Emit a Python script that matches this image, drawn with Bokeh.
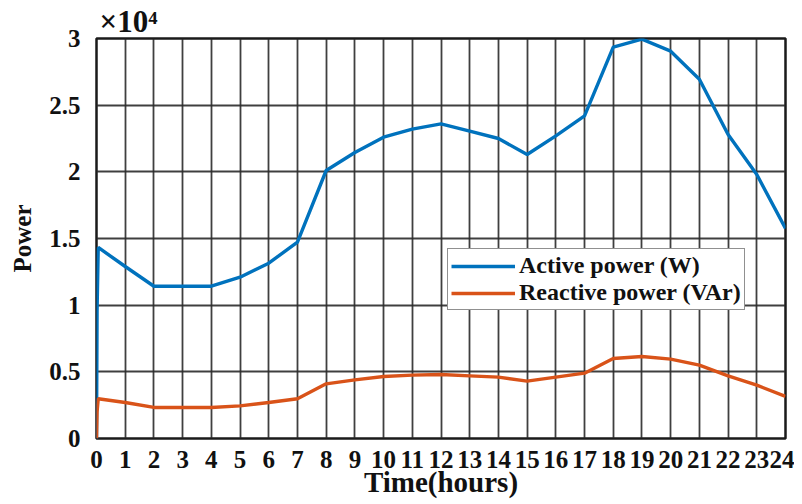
from bokeh.plotting import figure
from bokeh.models import FixedTicker, Range1d, Title, Legend, LegendItem
from bokeh.embed import file_html
from bokeh.resources import INLINE

# ---- data ----
time_h = [0, 0.02, 0.06, 1, 2, 3, 4, 5, 6, 7, 8, 9, 10, 11, 12, 13, 14, 15, 16,
          17, 18, 19, 20, 21, 22, 23, 24]
active_w = [0, 9600, 14330, 12900, 11420, 11420, 11420, 12100, 13150, 14730,
            20100, 21450, 22600, 23200, 23600, 23050, 22500, 21300, 22700,
            24200, 29350, 29950, 29050, 26950, 22800, 19800, 15750]
reactive_var = [0, 2000, 2980, 2700, 2330, 2330, 2330, 2450, 2700, 2980,
                4100, 4400, 4650, 4750, 4800, 4700, 4600, 4300, 4600,
                4900, 6000, 6150, 5950, 5500, 4700, 4000, 3150]
x_ticks = list(range(0, 25))
y_ticks = [0, 5000, 10000, 15000, 20000, 25000, 30000]
y_tick_labels = ["0", "0.5", "1", "1.5", "2", "2.5", "3"]
multiplier_text = "\u00d710\u2074"

FONT = "Liberation Serif"

p = figure(width=794, height=504, output_backend="svg", toolbar_location=None,
           x_range=Range1d(0, 24), y_range=Range1d(0, 30000),
           min_border_left=96, min_border_right=9, min_border_top=38,
           min_border_bottom=66)
p.background_fill_color = "white"
p.border_fill_color = "white"
p.outline_line_color = "#1a1a1a"
p.outline_line_width = 2.5

# x10^4 multiplier as a left-aligned title just above the frame
p.add_layout(Title(text=multiplier_text, align="left", offset=3, standoff=0,
                   text_font=FONT, text_font_style="bold", text_font_size="31px",
                   text_color="#111111"), "above")

l1 = p.line(time_h, active_w, line_color="#0072BD", line_width=3.4)
l2 = p.line(time_h, reactive_var, line_color="#D95319", line_width=3.4)

p.xaxis.ticker = FixedTicker(ticks=x_ticks)
p.yaxis.ticker = FixedTicker(ticks=y_ticks)
p.yaxis.major_label_overrides = {t: s for t, s in zip(y_ticks, y_tick_labels)}

for ax in (p.xaxis[0], p.yaxis[0]):
    ax.axis_line_color = None
    ax.major_tick_line_color = None
    ax.minor_tick_line_color = None
    ax.major_label_text_font = FONT
    ax.major_label_text_font_style = "bold"
    ax.major_label_text_font_size = "25px"
    ax.major_label_text_color = "#111111"
    ax.axis_label_text_font = FONT
    ax.axis_label_text_font_style = "bold"
    ax.axis_label_text_color = "#111111"

p.xaxis.axis_label = "Time(hours)"
p.yaxis.axis_label = "Power"
p.xaxis.axis_label_text_font_size = "29px"
p.yaxis.axis_label_text_font_size = "25px"
p.xaxis.major_label_standoff = 6
p.yaxis.major_label_standoff = 10
p.xaxis.axis_label_standoff = -5
p.yaxis.axis_label_standoff = 10

p.xgrid.grid_line_color = "#2a2a2a"
p.xgrid.grid_line_width = 1.8
p.xgrid.grid_line_alpha = 0.9
p.ygrid.grid_line_color = "#2a2a2a"
p.ygrid.grid_line_width = 1.8
p.ygrid.grid_line_alpha = 0.9

legend = Legend(items=[LegendItem(label="Active power (W)", renderers=[l1]),
                       LegendItem(label="Reactive power (VAr)", renderers=[l2])],
                location=(351, 128))
legend.label_text_font = FONT
legend.label_text_font_style = "bold"
legend.label_text_font_size = "24px"
legend.label_text_color = "#111111"
legend.glyph_width = 64
legend.glyph_height = 18
legend.label_height = 18
legend.label_standoff = 4
legend.padding = 3
legend.spacing = 0
legend.margin = 0
legend.border_line_color = "#222222"
legend.border_line_width = 1.2
legend.background_fill_alpha = 1.0
p.add_layout(legend, "center")

open("out.html", "w").write(file_html(p, INLINE))
